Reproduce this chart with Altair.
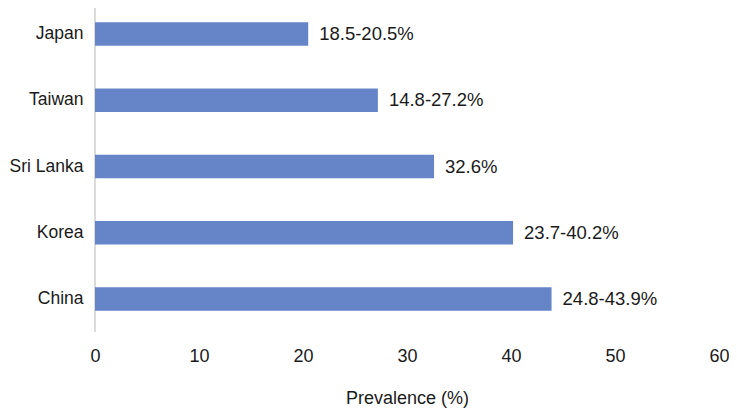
import altair as alt
import pandas as pd

countries = ["Japan", "Taiwan", "Sri Lanka", "Korea", "China"]
values = [20.5, 27.2, 32.6, 40.2, 43.9]
labels = ["18.5-20.5%", "14.8-27.2%", "32.6%", "23.7-40.2%", "24.8-43.9%"]

df = pd.DataFrame({"country": countries, "value": values, "label": labels})

FONT = "Liberation Sans"
y_enc = alt.Y("country:N", sort=countries, title=None,
              scale=alt.Scale(paddingInner=0.645, paddingOuter=0.215),
              axis=alt.Axis(domain=False, ticks=False, labelFontSize=17.5, labelFont=FONT,
                            labelColor="#1a1a1a", labelPadding=12))
x_enc = alt.X("value:Q", title="Prevalence (%)",
              scale=alt.Scale(domain=[0, 60]),
              axis=alt.Axis(values=[0, 10, 20, 30, 40, 50, 60], grid=False, domain=False, ticks=False,
                            labelFlush=False,
                            labelFontSize=18, labelFont=FONT, labelColor="#1a1a1a", labelPadding=22,
                            titleFontSize=18, titleFont=FONT, titleFontWeight="normal",
                            titleColor="#1a1a1a", titlePadding=24))

bars = alt.Chart(df).mark_bar(color="#6685C8").encode(x=x_enc, y=y_enc)
text = alt.Chart(df).mark_text(align="left", dx=11, fontSize=18.5, font=FONT, color="#1a1a1a").encode(
    x="value:Q", y=alt.Y("country:N", sort=countries), text="label:N")
axisline = alt.Chart(df).mark_rule(color="#d9d9d9", strokeWidth=1).encode(
    x=alt.value(0), y=alt.value(-8), y2=alt.value(324))

chart = alt.layer(axisline, bars, text).properties(
    width=624, height=317,
    autosize=alt.AutoSizeParams(type="none"),
    padding={"left": 87, "top": 0, "right": 10, "bottom": 86},
).configure_view(stroke=None)

chart.save("out.html", embed_options={"renderer": "svg", "actions": False})
